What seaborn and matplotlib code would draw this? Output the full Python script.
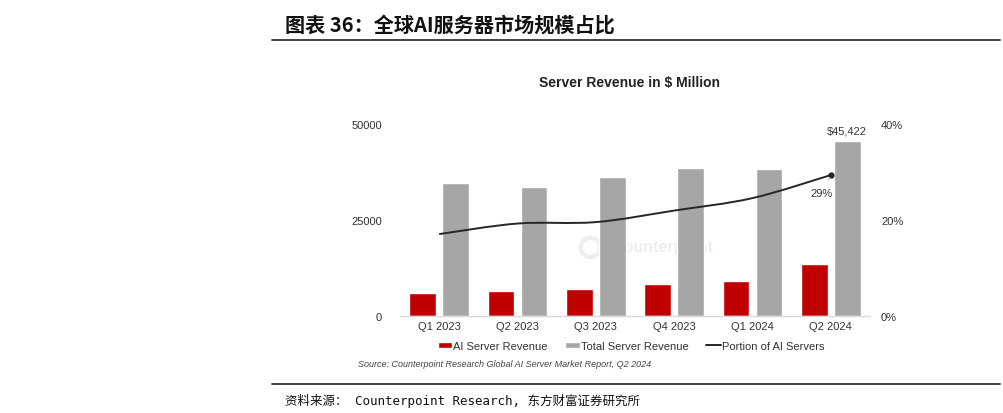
import numpy as np
import pandas as pd
import matplotlib
matplotlib.use("Agg")
import matplotlib.pyplot as plt
import seaborn as sns
from matplotlib.path import Path
from matplotlib.patches import PathPatch, Patch
from matplotlib.lines import Line2D
from matplotlib.ticker import FuncFormatter

# data
quarters = ["Q1 2023", "Q2 2023", "Q3 2023", "Q4 2023", "Q1 2024", "Q2 2024"]
ai_revenue = [5790, 6310, 6920, 8220, 9160, 13410]
total_revenue = [34510, 33550, 36070, 38480, 38140, 45422]
ai_share = [0.170, 0.192, 0.195, 0.219, 0.245, 0.293]
series_names = ["AI Server Revenue", "Total Server Revenue"]
line_name = "Portion of AI Servers"
left_ticks = [0, 25000, 50000]
right_ticks = [0, 0.2, 0.4]

RED = "#C00000"
GRAY = "#A6A6A6"
LINE = "#262626"

df = pd.DataFrame({
    "quarter": quarters * 2,
    "series": [series_names[0]] * len(quarters) + [series_names[1]] * len(quarters),
    "value": ai_revenue + total_revenue,
})

sns.set_style("white")
plt.rcParams["font.family"] = ["Liberation Sans", "DejaVu Sans"]

W, H = 1004, 414
fig = plt.figure(figsize=(W / 100, H / 100), dpi=100)


def fx(px):
    return px / W


def fy(py):
    return 1 - py / H


# page header / footer of the report
cjk = ["Noto Sans CJK SC", "DejaVu Sans"]
fig.text(fx(285), fy(25), "图表 36：全球AI服务器市场规模占比", family=cjk,
         fontsize=14.5, fontweight="bold", va="center", ha="left", color="#111111")
fig.add_artist(Line2D([fx(272), fx(1000)], [fy(41), fy(41)], color="#333333", lw=1.3))
fig.add_artist(Line2D([fx(272), fx(1000)], [fy(385), fy(385)], color="#333333", lw=1.3))
fig.text(fx(285), fy(401), "资料来源： Counterpoint Research, 东方财富证券研究所",
         family=["DejaVu Sans Mono", "Noto Sans CJK SC"], fontsize=9,
         va="center", ha="left", color="#111111")

# chart
ax = fig.add_axes([fx(400), fy(316.7), fx(870) - fx(400), (316.7 - 124.7) / H])
sns.barplot(data=df, x="quarter", y="value", hue="series", order=quarters,
            palette=[RED, GRAY], width=0.84, gap=0.19, ax=ax, legend=False,
            saturation=1)
ax.set_xlim(-0.5, len(quarters) - 0.5)
ax.set_ylim(0, 50000)
ax.set_yticks(left_ticks)
ax.set_yticklabels([str(t) for t in left_ticks])
ax.set_xlabel("")
ax.set_ylabel("")
for s in ["top", "left", "right"]:
    ax.spines[s].set_visible(False)
ax.spines["bottom"].set_color("#D9D9D9")
ax.spines["bottom"].set_linewidth(1)
ax.set_xticks(np.arange(-0.5, len(quarters), 1), minor=True)
ax.tick_params(axis="x", which="major", length=0, pad=4, labelsize=8, labelcolor="#333333")
ax.tick_params(axis="x", which="minor", length=4, color="#D9D9D9", width=1)
ax.tick_params(axis="y", length=0, pad=13, labelsize=8, labelcolor="#333333")

# value label on last total bar
last = len(quarters) - 1
ax.annotate(f"${total_revenue[last]:,.0f}", xy=(last + 0.21, total_revenue[last]),
            xytext=(0, 4), textcoords="offset points", ha="center", va="bottom",
            fontsize=8, color="#333333")

# watermark (behind the bars)
ax.text(0.56, 0.358, "Counterpoint", transform=ax.transAxes, fontsize=11.5,
        fontweight="bold", color="#EEEEEE", ha="center", va="center", zorder=0)
ax.plot([0.404], [0.358], transform=ax.transAxes, marker="o", markersize=14,
        markerfacecolor="none", markeredgecolor="#EEEEEE", markeredgewidth=3, zorder=0)

# share line on the secondary axis (smoothed bezier through the points)
ax2 = ax.twinx()
ax2.set_ylim(0, 0.4)
ax2.set_yticks(right_ticks)
ax2.yaxis.set_major_formatter(FuncFormatter(lambda v, p: f"{v:.0%}"))
for s in ["top", "left", "right", "bottom"]:
    ax2.spines[s].set_visible(False)
ax2.tick_params(axis="y", length=0, pad=8, labelsize=8, labelcolor="#333333")

pts = np.column_stack([np.arange(len(quarters)), ai_share])
verts = [pts[0]]
codes = [Path.MOVETO]
n = len(pts)
for i in range(n - 1):
    p0 = pts[max(i - 1, 0)]
    p1 = pts[i]
    p2 = pts[i + 1]
    p3 = pts[min(i + 2, n - 1)]
    verts += [p1 + (p2 - p0) / 6, p2 - (p3 - p1) / 6, p2]
    codes += [Path.CURVE4] * 3
ax2.add_patch(PathPatch(Path(verts, codes), facecolor="none", edgecolor=LINE, lw=1.4))
ax2.plot([last], [ai_share[last]], marker="o", markersize=3.5, color=LINE)
ax2.annotate(f"{ai_share[last]:.0%}", xy=(last, ai_share[last]),
             xytext=(last - 0.12, ai_share[last] - 0.038), ha="center", va="center",
             fontsize=8, color="#333333",
             arrowprops=dict(arrowstyle="-", color="#BFBFBF", lw=0.8, shrinkA=4, shrinkB=2))

# chart title
fig.text(fx(630), fy(83), "Server Revenue in $ Million", fontsize=10,
         fontweight="bold", ha="center", va="center", color="#222222")

# legend
handles = [Patch(facecolor=RED), Patch(facecolor=GRAY),
           Line2D([], [], color=LINE, lw=1.4)]
fig.legend(handles, series_names + [line_name], loc="center",
           bbox_to_anchor=(fx(631), fy(347)), ncol=3, frameon=False,
           fontsize=8, handlelength=1.3, handleheight=0.5, handletextpad=0.1,
           columnspacing=1.6, labelcolor="#333333")

fig.text(fx(358), fy(365),
         "Source: Counterpoint Research Global AI Server Market Report, Q2 2024",
         fontsize=6.5, fontstyle="italic", ha="left", va="center", color="#444444")

fig.savefig("out.png", dpi=100)
